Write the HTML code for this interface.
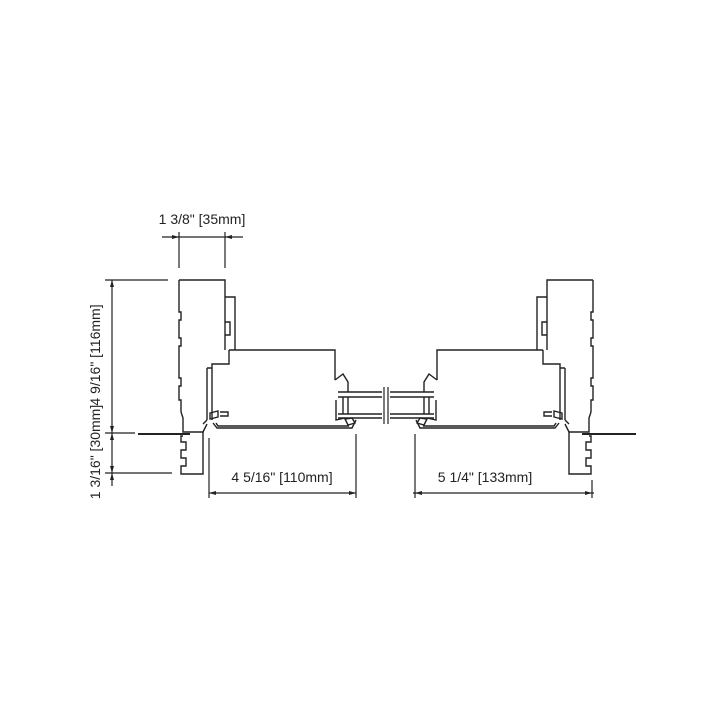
<!DOCTYPE html><html><head><style>body{margin:0;background:#fff}svg{display:block}text{font-family:"Liberation Sans",sans-serif;font-size:14px;fill:#222}</style></head><body>
<svg width="720" height="720" viewBox="0 0 720 720" xmlns="http://www.w3.org/2000/svg">
<defs>
<g id="half" fill="none" stroke="#222" stroke-width="1.4">
<path d="M179,280 H225 V350 M179,280 V312 H181 V320 H179 V338 H181 V346 H179 V378 H181 V386 H179 V400 H181 V412"/>
<path d="M225,297 H235 V350 M225,322 H230 V335 H225"/>
<path d="M229,350 H335 V380 M229,350 V364 H212 V420 M207,368 V420 M207,368 H212"/>
<path d="M213,423 L217,428 H352 L356,420 M216,423 L218,426 H349"/>
<path d="M210,413 L218,411 V417 L210,419 Z M220,412 H228 V416 H220"/>
<path d="M335,380 L343,374 L348,382 V392 M336,400 V420 L345,418"/>
<path d="M338,392 H382 M338,397 H382 M338,414 H382 M338,418 H382 M343,397 V414 M348,397 V414"/>
<path d="M345,419 L352,418 L355,423 L348,425 Z"/>
<path d="M181,412 L183,418 V432 H203 V474 H181 V466 H186 V458 H181 V450 H186 V442 H181 V436 H183"/>
<path d="M203,424 L207,420 M203,432 L207,424"/>
</g>
</defs>
<use href="#half"/>
<g transform="translate(772,0) scale(-1,1)"><use href="#half"/></g>
<g stroke="#222" stroke-width="1.2" fill="none">
<line x1="138" y1="434" x2="190" y2="434" stroke-width="2"/>
<line x1="582" y1="434" x2="636" y2="434" stroke-width="2"/>
<line x1="384" y1="387" x2="384" y2="424"/><line x1="388" y1="387" x2="388" y2="424"/>
<line x1="162" y1="237" x2="243" y2="237"/>
<line x1="179" y1="232" x2="179" y2="268"/><line x1="225" y1="232" x2="225" y2="268"/>
<line x1="112" y1="280" x2="112" y2="486"/>
<line x1="105" y1="280" x2="168" y2="280"/><line x1="105" y1="433" x2="135" y2="433"/><line x1="105" y1="473" x2="172" y2="473"/>
<line x1="209" y1="438" x2="209" y2="498"/><line x1="356" y1="434" x2="356" y2="498"/>
<line x1="209" y1="493" x2="356" y2="493"/>
<line x1="415" y1="434" x2="415" y2="498"/><line x1="592" y1="480" x2="592" y2="498"/>
<line x1="413" y1="493" x2="594" y2="493"/>
</g>
<g fill="#222">
<path d="M179,237 l-7,-2 v4z M225,237 l7,-2 v4z"/>
<path d="M112,280 l-2,7 h4z M112,433 l-2,-7 h4z M112,433 l-2,7 h4z M112,473 l-2,-7 h4z M112,473 l-2,7 h4z"/>
<path d="M209,493 l7,-2 v4z M356,493 l-7,-2 v4z M415,493 l7,-2 v4z M592,493 l-7,-2 v4z"/>
</g>
<text x="202" y="224" text-anchor="middle">1 3/8" [35mm]</text>
<text x="282" y="482" text-anchor="middle">4 5/16" [110mm]</text>
<text x="485" y="482" text-anchor="middle">5 1/4" [133mm]</text>
<text transform="translate(100,355) rotate(-90)" text-anchor="middle">4 9/16" [116mm]</text>
<text transform="translate(100,452) rotate(-90)" text-anchor="middle">1 3/16" [30mm]</text>
</svg></body></html>
